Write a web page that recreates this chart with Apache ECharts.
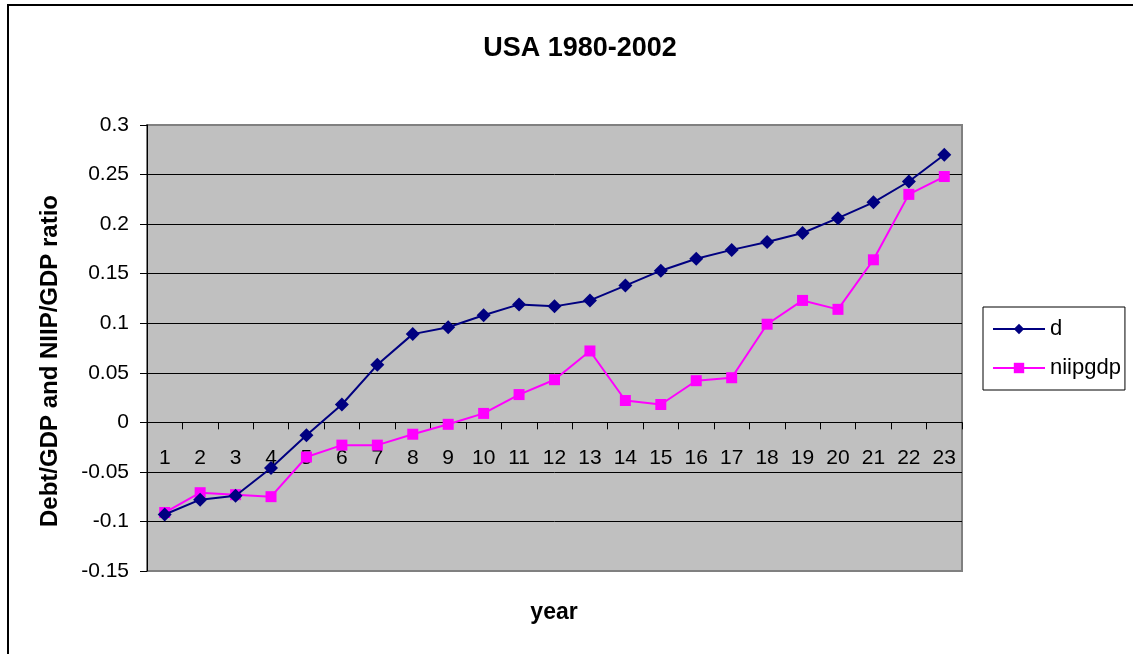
<!DOCTYPE html>
<html>
<head>
<meta charset="utf-8">
<script src="https://cdn.jsdelivr.net/npm/echarts@6/dist/echarts.min.js"></script>
<style>
html,body{margin:0;padding:0;background:#fff;}
#chart{width:1133px;height:654px;}
</style>
</head>
<body>
<div id="chart"></div>
<script>
var categories = ['1','2','3','4','5','6','7','8','9','10','11','12','13','14','15','16','17','18','19','20','21','22','23'];
var dValues = [-0.093,-0.078,-0.074,-0.046,-0.013,0.018,0.058,0.089,0.096,0.108,0.119,0.117,0.123,0.138,0.153,0.165,0.174,0.182,0.191,0.206,0.222,0.243,0.270];
var niipgdpValues = [-0.091,-0.071,-0.073,-0.075,-0.035,-0.023,-0.023,-0.012,-0.002,0.009,0.028,0.043,0.072,0.022,0.018,0.042,0.045,0.099,0.123,0.114,0.164,0.230,0.248];
var seriesNames = ['d','niipgdp'];
var titleText = 'USA 1980-2002';
var xName = 'year';
var yName = 'Debt/GDP and NIIP/GDP ratio';

var chart = echarts.init(document.getElementById('chart'), null, {renderer:'canvas'});
var font = 'Arial, "Liberation Sans", sans-serif';
var gridTop = 125, gridBottom = 83, H = 654;
var yMin = -0.15, yMax = 0.3;
var plotH = H - gridTop - gridBottom;
var zeroOffset = -plotH * (0 - yMin) / (yMax - yMin);
chart.setOption({
  animation:false,
  backgroundColor:'#ffffff',
  title:{
    text:titleText, left:575, top:30, textAlign:'center',
    textStyle:{fontFamily:font,fontSize:27,fontWeight:'bold',color:'#000'}
  },
  grid:{
    left:147, top:gridTop, right:171, bottom:gridBottom, containLabel:false,
    show:true, backgroundColor:'#C0C0C0', borderColor:'#808080', borderWidth:2
  },
  legend:{
    orient:'vertical', left:983, top:307,
    data:seriesNames,
    borderColor:'#000', borderWidth:1, padding:[11,4,11,9],
    itemWidth:52, itemHeight:13, itemGap:17,
    textStyle:{fontFamily:font,fontSize:22,color:'#000'}
  },
  xAxis:{
    type:'category', data:categories, boundaryGap:true,
    offset:zeroOffset,
    axisLine:{onZero:false, lineStyle:{color:'#000',width:1}},
    axisTick:{show:true, length:7, inside:false, lineStyle:{color:'#000'}},
    axisLabel:{margin:25, fontFamily:font, fontSize:21, color:'#000', interval:0},
    splitLine:{show:false}
  },
  yAxis:{
    type:'value', min:yMin, max:yMax, interval:0.05,
    axisLine:{show:true, lineStyle:{color:'#000',width:1}},
    axisTick:{show:true, length:7, lineStyle:{color:'#000'}},
    axisLabel:{margin:18, fontFamily:font, fontSize:21, color:'#000',
      formatter:function(v){return String(Math.round(v*100)/100);}},
    splitLine:{show:true, lineStyle:{color:['#808080','#000','#000','#000','#000','#000','#000','#000','#000','#808080'],width:1}}
  },
  series:[
    {name:seriesNames[0], type:'line', data:dValues, symbol:'diamond', symbolSize:14,
     itemStyle:{color:'#000080'}, lineStyle:{color:'#000080',width:2}, z:3},
    {name:seriesNames[1], type:'line', data:niipgdpValues, symbol:'rect', symbolSize:11,
     itemStyle:{color:'#FF00FF'}, lineStyle:{color:'#FF00FF',width:2}, z:2}
  ],
  graphic:[
    {type:'rect', shape:{x:8,y:5,width:1200,height:700}, style:{fill:null, stroke:'#000', lineWidth:2}, silent:true},
    {type:'text', x:50, y:361, rotation:Math.PI/2,
     style:{text:yName, fontFamily:font, fontSize:24, fontWeight:'bold', fill:'#000', align:'center', verticalAlign:'middle'}},
    {type:'text', x:554, y:613,
     style:{text:xName, fontFamily:font, fontSize:23, fontWeight:'bold', fill:'#000', align:'center', verticalAlign:'middle'}}
  ]
});
</script>
</body>
</html>
